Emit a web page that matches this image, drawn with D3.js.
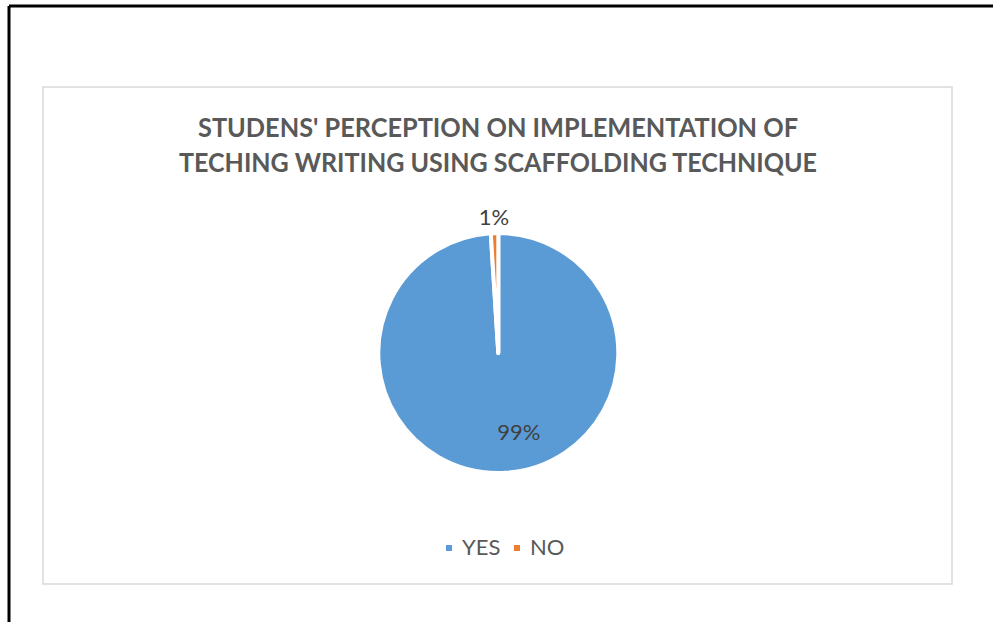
<!DOCTYPE html>
<html>
<head>
<meta charset="utf-8">
<title>Students' perception</title>
<script src="https://d3js.org/d3.v7.min.js"></script>
<style>
  body { margin: 0; background: #fff; }
  svg { display: block; }
</style>
</head>
<body>
<div id="pie_chart"></div>
<script>
// data
var categories = ["YES", "NO"];
var values = [99, 1];
var labels = ["99%", "1%"];
var titleLines = ["STUDENS' PERCEPTION ON IMPLEMENTATION OF",
                  "TECHING WRITING USING SCAFFOLDING TECHNIQUE"];
var colors = ["#5B9BD5", "#ED7D31"];

var width = 993,
    height = 622;

var svg = d3.select("#pie_chart")
    .append("svg")
    .attr("width", width)
    .attr("height", height);

// outer page frame (left + top only)
svg.append("line")
    .attr("x1", 9).attr("y1", 6).attr("x2", 9).attr("y2", height)
    .attr("stroke", "#000").attr("stroke-width", 3);
svg.append("line")
    .attr("x1", 9).attr("y1", 6).attr("x2", width).attr("y2", 6)
    .attr("stroke", "#000").attr("stroke-width", 3);

// chart area border
svg.append("rect")
    .attr("x", 43).attr("y", 87)
    .attr("width", 909).attr("height", 497)
    .attr("fill", "#fff")
    .attr("stroke", "#d9d9d9")
    .attr("stroke-width", 1.5);

// title
svg.append("g")
    .selectAll("text")
    .data(titleLines)
    .enter()
    .append("text")
    .attr("x", 498)
    .attr("y", function(d, i) { return 137 + i * 35; })
    .attr("text-anchor", "middle")
    .attr("font-family", "Lato, 'Open Sans', sans-serif")
    .attr("font-weight", "bold")
    .attr("font-size", 27)
    .attr("fill", "#595959")
    .attr("textLength", function(d, i) { return i == 0 ? 600 : 638; })
    .attr("lengthAdjust", "spacingAndGlyphs")
    .text(function(d) { return d; });

// pie
var cx = 498.3, cy = 353, radius = 120;

var pie = d3.pie().sort(null).value(function(d) { return d; });
var arcs = pie(values);

var arc = d3.arc().innerRadius(0).outerRadius(radius);

var g = svg.append("g")
    .attr("transform", "translate(" + cx + "," + cy + ")");

g.selectAll("path")
    .data(arcs)
    .enter()
    .append("path")
    .attr("d", arc)
    .attr("fill", function(d, i) { return colors[i]; })
    .attr("stroke", "#fff")
    .attr("stroke-width", 4)
    .attr("stroke-linejoin", "round");

// data labels: YES inside, NO outside
var labelRadius = [79, 136];
var labelShift = [18, 0];

g.selectAll("text")
    .data(arcs)
    .enter()
    .append("text")
    .attr("x", function(d, i) {
        var a = (d.startAngle + d.endAngle) / 2;
        return labelRadius[i] * Math.sin(a) + labelShift[i];
    })
    .attr("y", function(d, i) {
        var a = (d.startAngle + d.endAngle) / 2;
        return -labelRadius[i] * Math.cos(a);
    })
    .attr("dy", "0.35em")
    .attr("text-anchor", "middle")
    .attr("font-family", "Lato, 'Open Sans', sans-serif")
    .attr("font-size", 22)
    .attr("fill", "#404040")
    .text(function(d, i) { return labels[i]; });

// legend
var legendX = [446, 514];
var legend = svg.append("g")
    .selectAll("g")
    .data(categories)
    .enter()
    .append("g")
    .attr("transform", function(d, i) { return "translate(" + legendX[i] + ",545)"; });

legend.append("rect")
    .attr("width", 6)
    .attr("height", 6)
    .attr("fill", function(d, i) { return colors[i]; });

legend.append("text")
    .attr("x", 16)
    .attr("y", 10)
    .attr("font-family", "Lato, 'Open Sans', sans-serif")
    .attr("font-size", 22)
    .attr("fill", "#595959")
    .text(function(d) { return d; });
</script>
</body>
</html>
